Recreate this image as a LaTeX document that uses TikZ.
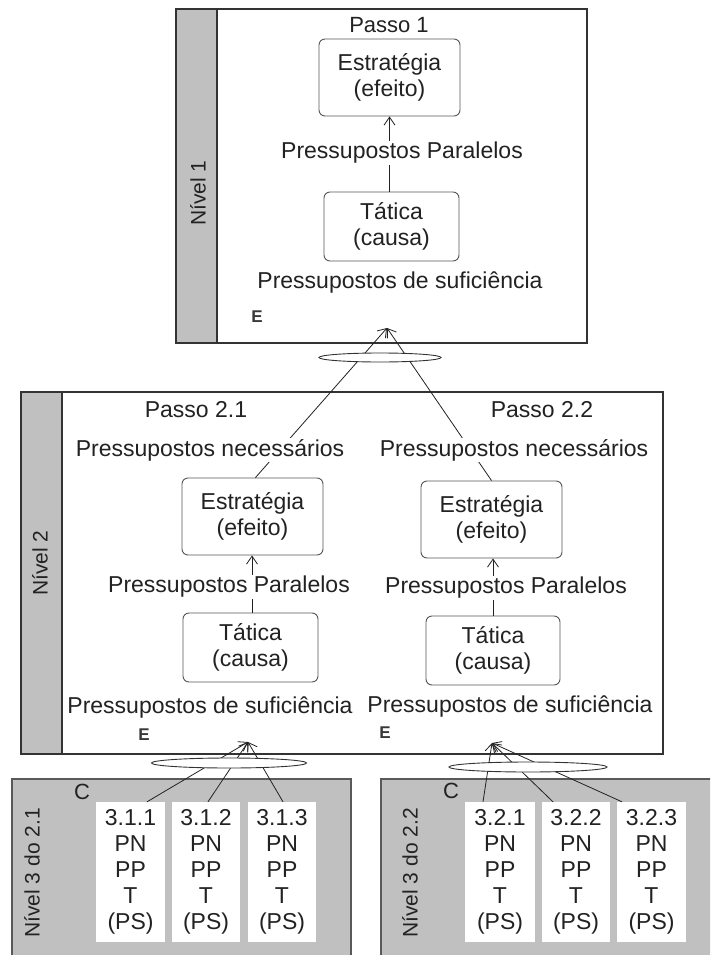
\documentclass[tikz,border=0pt]{standalone}
\usepackage{fontspec}
\setmainfont{Liberation Sans}
\usetikzlibrary{arrows.meta,shapes.geometric}
\definecolor{panelgray}{HTML}{C0C0C0}
\definecolor{edgegray}{HTML}{555555}
\definecolor{inkgray}{HTML}{222222}
\begin{document}
\begin{tikzpicture}[x=1pt,y=-1pt,
  txt/.style={font=\fontsize{23}{26}\selectfont, inner sep=1.5pt, text=inkgray},
  lbl/.style={txt, fill=white},
  stepbox/.style={txt, draw=edgegray, rounded corners=6pt, line width=0.9pt, fill=white, align=center, inner sep=0pt},
  levelbox/.style={draw=black!80, line width=1.1pt},
  strip/.style={fill=panelgray, draw=black!80, line width=1.1pt},
  lowpanel/.style={fill=panelgray, draw=black!65, line width=1.1pt},
  vlabel/.style={rotate=90, font=\fontsize{21}{24}\selectfont, text=inkgray, inner sep=0pt},
  emark/.style={font=\fontsize{17}{20}\selectfont\bfseries, text=black!78, inner sep=0pt},
  barb/.style={-{Straight Barb[length=8pt,width=11pt]}, line width=0.8pt, draw=inkgray},
  lens/.style={ellipse, draw=black!80, fill=white, inner sep=0pt, line width=0.9pt},
  itembox/.style={fill=white, inner sep=0pt, align=center, text=inkgray,
    font=\fontsize{23}{26}\selectfont, minimum height=140pt},
]

\useasboundingbox (0,0) rectangle (710,955);
\clip (0,0) rectangle (710,955);

% ---------- level frames ----------
\draw[levelbox, fill=white] (176,9) rectangle (587,343);
\draw[strip] (176,9) rectangle (217,343);
\draw[levelbox, fill=white] (21,392) rectangle (663,754);
\draw[strip] (21,392) rectangle (62,754);
\draw[lowpanel] (12,779) rectangle (351,962);
\draw[lowpanel] (381,779) rectangle (716,962);

% ---------- level 1 ----------
\node[vlabel] (lv1) at (198,193) {Nível 1};
\node[txt, font=\fontsize{22}{26}\selectfont] (passo1) at (389,25) {Passo 1};
\node[stepbox, minimum width=141pt, minimum height=77pt] (e1) at (389.5,77.5) {Estratégia\\(efeito)};
\node[stepbox, minimum width=135pt, minimum height=69pt] (t1) at (391.5,226.5) {Tática\\(causa)};
\draw[barb] (t1.north -| e1) -- (e1.south);
\node[lbl] (pp1) at (402,153) {Pressupostos Paralelos};
\node[lbl] (ps1) at (400,283) {Pressupostos de suficiência};
\node[emark] (E1) at (257,317) {E};
\coordinate (tip1) at (387,328);

% ---------- level 2 ----------
\node[vlabel] (lv2) at (40,563) {Nível 2};
\node[txt] (passo21) at (196,410) {Passo 2.1};
\node[txt] (passo22) at (542,410) {Passo 2.2};
\node[stepbox, minimum width=141pt, minimum height=77pt] (e21) at (252.5,516.5) {Estratégia\\(efeito)};
\node[stepbox, minimum width=141pt, minimum height=77pt] (e22) at (491.5,519.5) {Estratégia\\(efeito)};
\node[stepbox, minimum width=135pt, minimum height=69pt] (t21) at (250.5,647.5) {Tática\\(causa)};
\node[stepbox, minimum width=134pt, minimum height=69pt] (t22) at (493,650.5) {Tática\\(causa)};
\draw[barb] (t21.north -| 252,0) -- (e21.south -| 252,0);
\draw[barb] (t22.north -| 493,0) -- (e22.south -| 493,0);
\coordinate (tip21) at (248,742);
\coordinate (tip22) at (492,743);

% links from the level 2 strategies up to level 1
\draw[barb] ([xshift=3pt]e21.north) -- (tip1);
\draw[barb] (e22.north) -- (tip1);
\node[lens, minimum width=122pt, minimum height=9pt] (el1) at (380,357.5) {};

\node[lbl] (pn21) at (210,450) {Pressupostos necessários};
\node[lbl] (pn22) at (514,450) {Pressupostos necessários};
\node[lbl] (pp21) at (229,587) {Pressupostos Paralelos};
\node[lbl] (pp22) at (506,588) {Pressupostos Paralelos};
\node[lbl] (ps21) at (210,708) {Pressupostos de suficiência};
\node[lbl] (ps22) at (510,707) {Pressupostos de suficiência};
\node[emark] (E21) at (144,735) {E};
\node[emark] (E22) at (385,733) {E};

% ---------- level 3 ----------
\node[vlabel] (lv31) at (32,873) {Nível 3 do 2.1};
\node[vlabel] (lv32) at (410,873) {Nível 3 do 2.2};
\node[txt, font=\fontsize{22}{24}\selectfont] (c31) at (82,792) {C};
\node[txt, font=\fontsize{22}{24}\selectfont] (c32) at (451,791) {C};

\node[itembox, minimum width=69pt] (b311) at (130.5,872) {3.1.1\\PN\\PP\\T\\(PS)};
\node[itembox, minimum width=68pt] (b312) at (206,872) {3.1.2\\PN\\PP\\T\\(PS)};
\node[itembox, minimum width=68pt] (b313) at (282,872) {3.1.3\\PN\\PP\\T\\(PS)};
\node[itembox, minimum width=70pt] (b321) at (500,872) {3.2.1\\PN\\PP\\T\\(PS)};
\node[itembox, minimum width=68pt] (b322) at (576,872) {3.2.2\\PN\\PP\\T\\(PS)};
\node[itembox, minimum width=69pt] (b323) at (651.5,872) {3.2.3\\PN\\PP\\T\\(PS)};

\draw[barb] ([xshift=16.5pt]b311.north) -- (tip21);
\draw[barb] ([xshift=2pt]b312.north) -- (tip21);
\draw[barb] ([xshift=1pt]b313.north) -- (tip21);
\draw[barb] ([xshift=-17pt]b321.north) -- (tip22);
\draw[barb] ([xshift=-23pt]b322.north) -- (tip22);
\draw[barb] ([xshift=-29.5pt]b323.north) -- (tip22);
\node[lens, minimum width=155pt, minimum height=10pt] (el2) at (229,763) {};
\node[lens, minimum width=158pt, minimum height=10pt] (el3) at (528,767) {};

\end{tikzpicture}
\end{document}
